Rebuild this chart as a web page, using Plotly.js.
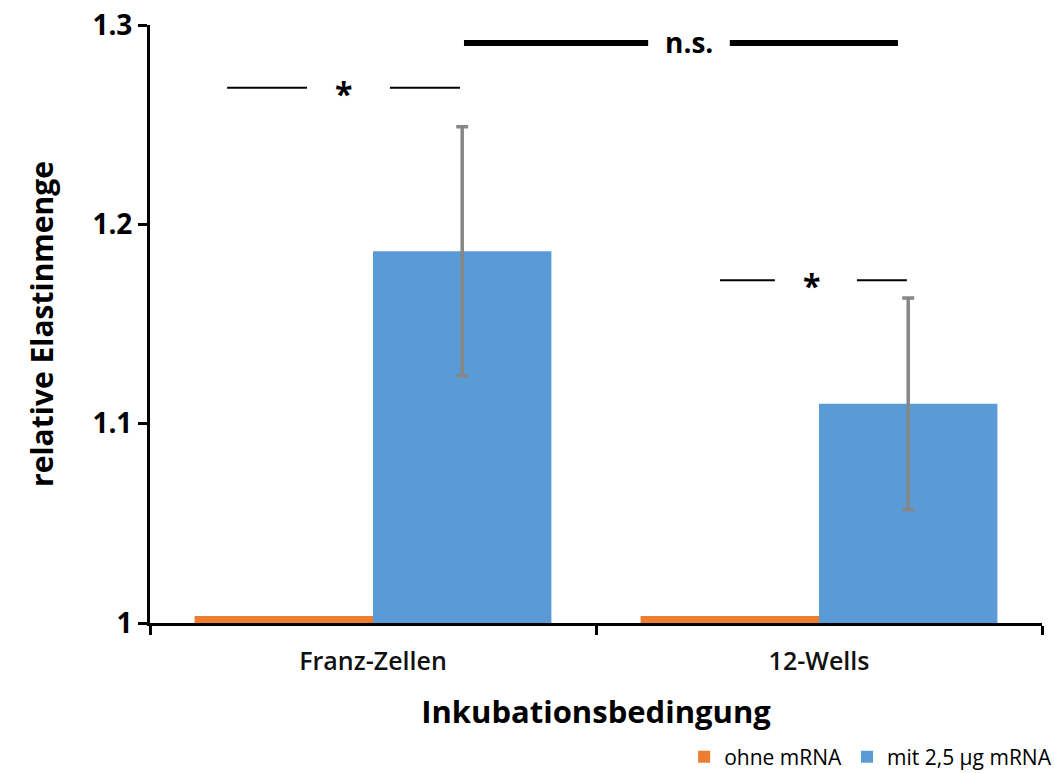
<!DOCTYPE html>
<html><head><meta charset="utf-8">
<script src="https://cdn.plot.ly/plotly-3.0.1.min.js"></script>
<style>html,body{margin:0;padding:0;background:#fff}</style>
</head><body>
<div id="chart" style="width:1054px;height:773px"></div>
<script>
const categories = ["Franz-Zellen", "12-Wells"];
const ohneValues = [1.0035, 1.0035];
const mitValues = [1.1865, 1.110];
const mitErrors = [0.0625, 0.053];
const seriesNames = ["ohne mRNA", "mit 2,5 µg mRNA"];
const yTicks = [1, 1.1, 1.2, 1.3];
const yTickLabels = ["1", "1.1", "1.2", "1.3"];

const FONT = "Open Sans, Noto Sans, sans-serif";

const traces = [
  {type: "bar", name: seriesNames[0], x: categories, y: ohneValues,
   marker: {color: "#ED7D31"}, hoverinfo: "y"},
  {type: "bar", name: seriesNames[1], x: categories, y: mitValues,
   marker: {color: "#5B9BD5"},
   error_y: {type: "data", array: mitErrors, visible: true, color: "#878787", thickness: 3.5, width: 6}}
];

function hline(x0, x1, y, w) {
  return {type: "line", xref: "x", yref: "y", x0: x0, x1: x1, y0: y, y1: y,
          line: {color: "#000", width: w}};
}
const shapes = [
  hline(-0.327, -0.148, 1.2685, 2),
  hline(0.038, 0.195, 1.2685, 2),
  hline(0.204, 0.617, 1.291, 6),
  hline(0.800, 1.177, 1.291, 6),
  hline(0.778, 0.901, 1.172, 2),
  hline(1.085, 1.197, 1.172, 2)
];
const annotations = [
  {xref: "x", yref: "y", x: -0.067, y: 1.2655, text: "<b>*</b>", showarrow: false,
   font: {family: FONT, size: 32, color: "#000"}, yanchor: "middle"},
  {xref: "x", yref: "y", x: 0.984, y: 1.1695, text: "<b>*</b>", showarrow: false,
   font: {family: FONT, size: 32, color: "#000"}, yanchor: "middle"},
  {xref: "x", yref: "y", x: 0.709, y: 1.2915, text: "<b>n.s.</b>", showarrow: false,
   font: {family: FONT, size: 28, color: "#000"}, yanchor: "middle"}
];

const layout = {
  width: 1054, height: 773,
  margin: {l: 150, r: 12, t: 25, b: 150, autoexpand: false},
  paper_bgcolor: "#fff", plot_bgcolor: "#fff",
  barmode: "group", bargap: 0.2, bargroupgap: 0,
  showlegend: true,
  legend: {orientation: "h", x: 1.017, xanchor: "right", y: -0.19, yanchor: "top",
           font: {family: FONT, size: 21, color: "#000"}, traceorder: "normal",
           itemwidth: 30, tracegroupgap: 0},
  xaxis: {
    type: "category", range: [-0.5, 1.5],
    showline: true, linecolor: "#000", linewidth: 3,
    ticks: "outside", tickson: "boundaries", ticklen: 9, tickwidth: 3, tickcolor: "#000",
    ticklabelstandoff: 14,
    tickfont: {family: FONT, size: 25, color: "#111", weight: 600},
    title: {text: "<b>Inkubationsbedingung</b>", font: {family: FONT, size: 31, color: "#000"}, standoff: 26},
    showgrid: false, zeroline: false
  },
  yaxis: {
    range: [1, 1.3], tickvals: yTicks, ticktext: yTickLabels.map(t => "<b>" + t + "</b>"),
    showline: true, linecolor: "#000", linewidth: 3,
    ticks: "outside", ticklen: 9, tickwidth: 3, tickcolor: "#000",
    tickfont: {family: FONT, size: 28, color: "#000"},
    title: {text: "<b>relative Elastinmenge</b>", font: {family: FONT, size: 30, color: "#000"}, standoff: 30},
    showgrid: false, zeroline: false
  },
  shapes: shapes,
  annotations: annotations
};

Plotly.newPlot("chart", traces, layout, {displayModeBar: false, staticPlot: true});
</script>
</body></html>
